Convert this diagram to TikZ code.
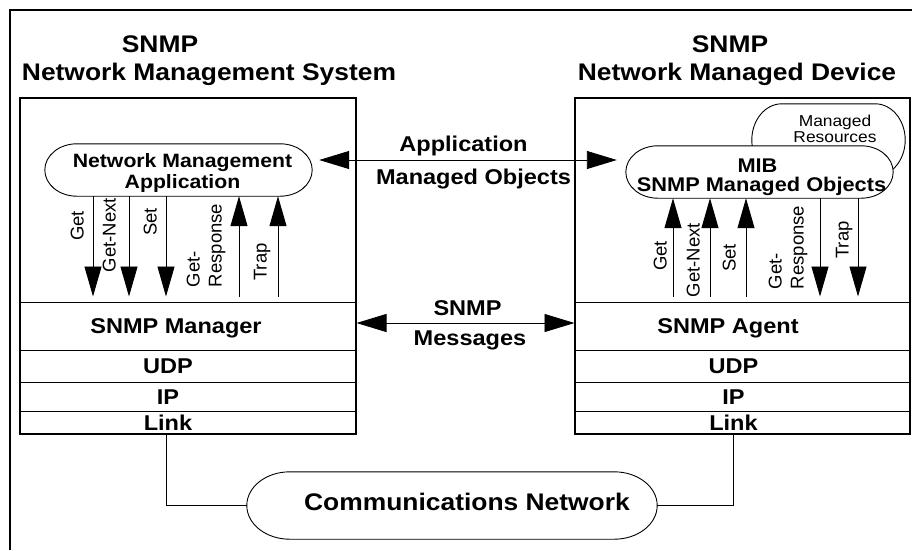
\documentclass[tikz,border=0pt]{standalone}
\usepackage{fontspec}
\setmainfont{Liberation Sans}[FakeStretch=1.1]
\newfontfamily\plainsans{Liberation Sans}
\usetikzlibrary{arrows.meta,calc}
\pgfdeclarelayer{bg}
\pgfsetlayers{bg,main}

\tikzset{
  frame/.style={line width=1.4pt},
  box/.style={draw, line width=1.1pt, rectangle, inner sep=0pt},
  layer/.style={draw, line width=1pt, rectangle, inner sep=0pt, font=\fontsize{21.4}{24}\selectfont\bfseries, text height=15.3pt, text depth=0pt},
  pill/.style={rectangle, inner sep=0pt, align=center},
  pillline/.style={draw, fill=white, line width=0.9pt},
  title/.style={inner sep=0pt, font=\fontsize{24}{28}\selectfont\bfseries},
  midlabel/.style={inner sep=0pt, font=\fontsize{21.4}{24}\selectfont\bfseries, text height=15.3pt, text depth=0pt},
  bigarrow/.style={-{Triangle[length=30pt,width=17pt]}, line width=0.9pt},
  dblarrow/.style={{Triangle[length=30pt,width=18pt]}-{Triangle[length=30pt,width=18pt]}, line width=0.9pt},
  opname/.style={rotate=90, inner sep=0pt, align=left, font=\plainsans\fontsize{18.5}{22}\selectfont, text height=13.3pt, text depth=0pt},
  wire/.style={line width=0.9pt},
}

\newcommand\pilloutline[2]{%
  \draw[pillline] let \p1=(#1.north west), \p2=(#1.south east), \n1={(\y1-\y2)/2} in
    (\x1+#2pt,\y1) -- (\x2-#2pt,\y1)
    arc[start angle=90, end angle=-90, x radius=#2pt, y radius={\n1*1pt}]
    -- (\x1+#2pt,\y2)
    arc[start angle=270, end angle=90, x radius=#2pt, y radius={\n1*1pt}] -- cycle;}

\begin{document}
\begin{tikzpicture}[x=1pt,y=1pt]
\useasboundingbox (0,0) rectangle (912,-550);
\draw[frame] (10,-550) -- (10,-10) -- (912,-10);

% titles
\node[title, anchor=base] (ltitleA) at (160,-52) {SNMP};
\node[title, anchor=base] (ltitleB) at (209,-80) {Network Management System};
\node[title, anchor=base] (rtitleA) at (730,-52) {SNMP};
\node[title, anchor=base] (rtitleB) at (737,-80) {Network Managed Device};

% outer boxes
\node[box, minimum width=336pt, minimum height=336pt] (lbox) at (188,-266) {};
\node[box, minimum width=335pt, minimum height=336pt] (rbox) at (742.5,-266) {};

% left stack
\node[layer, minimum width=336pt, minimum height=48pt] (mgr) at (188,-326) {SNMP Manager\hspace*{24pt}};
\node[layer, minimum width=336pt, minimum height=32pt] (ludp) at (188,-366) {UDP\hspace*{40pt}};
\node[layer, minimum width=336pt, minimum height=29pt] (lip) at (188,-396.5) {IP\hspace*{40pt}};
\node[layer, minimum width=336pt, minimum height=23pt] (llink) at (188,-422.5) {Link\hspace*{40pt}};

% right stack
\node[layer, minimum width=335pt, minimum height=48pt] (agent) at (742.5,-326) {SNMP Agent\hspace*{29pt}};
\node[layer, minimum width=335pt, minimum height=32pt] (rudp) at (742.5,-366) {UDP\hspace*{18pt}};
\node[layer, minimum width=335pt, minimum height=29pt] (rip) at (742.5,-396.5) {IP\hspace*{18pt}};
\node[layer, minimum width=335pt, minimum height=23pt] (rlink) at (742.5,-422.5) {Link\hspace*{18pt}};

% rounded shapes
\node[pill, minimum width=267pt, minimum height=52pt, font=\fontsize{19.3}{21}\selectfont\bfseries, text height=36pt, text depth=0pt] (nma) at (178.5,-170) {\hspace*{8pt}Network Management\\\hspace*{8pt}Application};
\node[pill, minimum width=153pt, minimum height=72pt, font=\fontsize{15.8}{13}\selectfont, text height=4pt, text depth=0pt] (mres) at (828.5,-140) {\hspace*{13pt}Managed\\\hspace*{13pt}Resources};
\node[pill, minimum width=267pt, minimum height=52pt, font=\fontsize{19.8}{19}\selectfont\bfseries, text height=38.4pt, text depth=0pt] (mib) at (759.5,-172) {MIB\hspace*{4pt}\\\hspace*{4pt}SNMP Managed Objects};
\node[pill, minimum width=410pt, minimum height=67pt, font=\fontsize{24}{28}\selectfont\bfseries, text height=17.2pt, text depth=8pt] (cnet) at (452,-505.5) {\hspace*{30pt}Communications Network};

\begin{pgfonlayer}{bg}
\pilloutline{mres}{30}
\pilloutline{mib}{32}
\pilloutline{nma}{32}
\pilloutline{cnet}{43}
\end{pgfonlayer}

% horizontal exchanges
\coordinate (appL) at ([yshift=10pt]nma.east);
\coordinate (appR) at (appL -| mib.west);
\draw[dblarrow, shorten <=7pt, shorten >=9pt] (appL) -- (appR)
  node[midlabel, pos=0.5, anchor=base, xshift=-5.5pt, yshift=9pt] (applbl) {Application}
  node[midlabel, pos=0.5, anchor=north, xshift=4.5pt, yshift=-9pt] (molbl) {Managed Objects};

\coordinate (msgL) at ([yshift=3pt]mgr.east);
\coordinate (msgR) at (msgL -| agent.west);
\draw[dblarrow] (msgL) -- (msgR)
  node[midlabel, pos=0.5, anchor=base, xshift=2pt, yshift=8pt] (snmplbl) {SNMP}
  node[midlabel, pos=0.5, anchor=north, xshift=4.5pt, yshift=-7pt] (msglbl) {Messages};

% vertical operation arrows
\foreach \n/\x in {lget/93, lnext/129, lset/166, lresp/239, ltrap/278, rget/673, rnext/710, rset/746, rresp/820, rtrap/858}
  \coordinate (\n) at (\x,0);

\draw[bigarrow, shorten >=5pt] (nma.south -| lget) -- (mgr.north -| lget);
\draw[bigarrow, shorten >=5pt] (nma.south -| lnext) -- (mgr.north -| lnext);
\draw[bigarrow, shorten >=5pt] (nma.south -| lset) -- (mgr.north -| lset);
\draw[bigarrow, shorten <=5pt] (mgr.north -| lresp) -- (nma.south -| lresp);
\draw[bigarrow, shorten <=5pt] (mgr.north -| ltrap) -- (nma.south -| ltrap);

\draw[bigarrow, shorten <=5pt] (agent.north -| rget) -- (mib.south -| rget);
\draw[bigarrow, shorten <=5pt] (agent.north -| rnext) -- (mib.south -| rnext);
\draw[bigarrow, shorten <=5pt] (agent.north -| rset) -- (mib.south -| rset);
\draw[bigarrow, shorten >=5pt] (mib.south -| rresp) -- (agent.north -| rresp);
\draw[bigarrow, shorten >=5pt] (mib.south -| rtrap) -- (agent.north -| rtrap);

% operation labels
\node[opname] (lgetlbl) at (77,-226) {Get};
\node[opname] (lnextlbl) at (109,-235) {Get-Next};
\node[opname] (lsetlbl) at (150,-222) {Set};
\node[opname, text height=35.3pt] (lresplbl) at (204,-245.5) {Get-\\Response};
\node[opname] (ltraplbl) at (260,-262) {Trap};

\node[opname] (rgetlbl) at (660,-256) {Get};
\node[opname] (rnextlbl) at (693,-260) {Get-Next};
\node[opname] (rsetlbl) at (729,-258) {Set};
\node[opname, text height=35.3pt] (rresplbl) at (786,-247.5) {Get-\\Response};
\node[opname] (rtraplbl) at (842,-240) {Trap};

% links to the network
\coordinate (lwire) at ([xshift=-22pt]llink.south);
\draw[wire] (lwire) |- (cnet.west);
\coordinate (rwire) at ([xshift=-9.5pt]rlink.south);
\draw[wire] (rwire) |- (cnet.east);
\end{tikzpicture}
\end{document}
